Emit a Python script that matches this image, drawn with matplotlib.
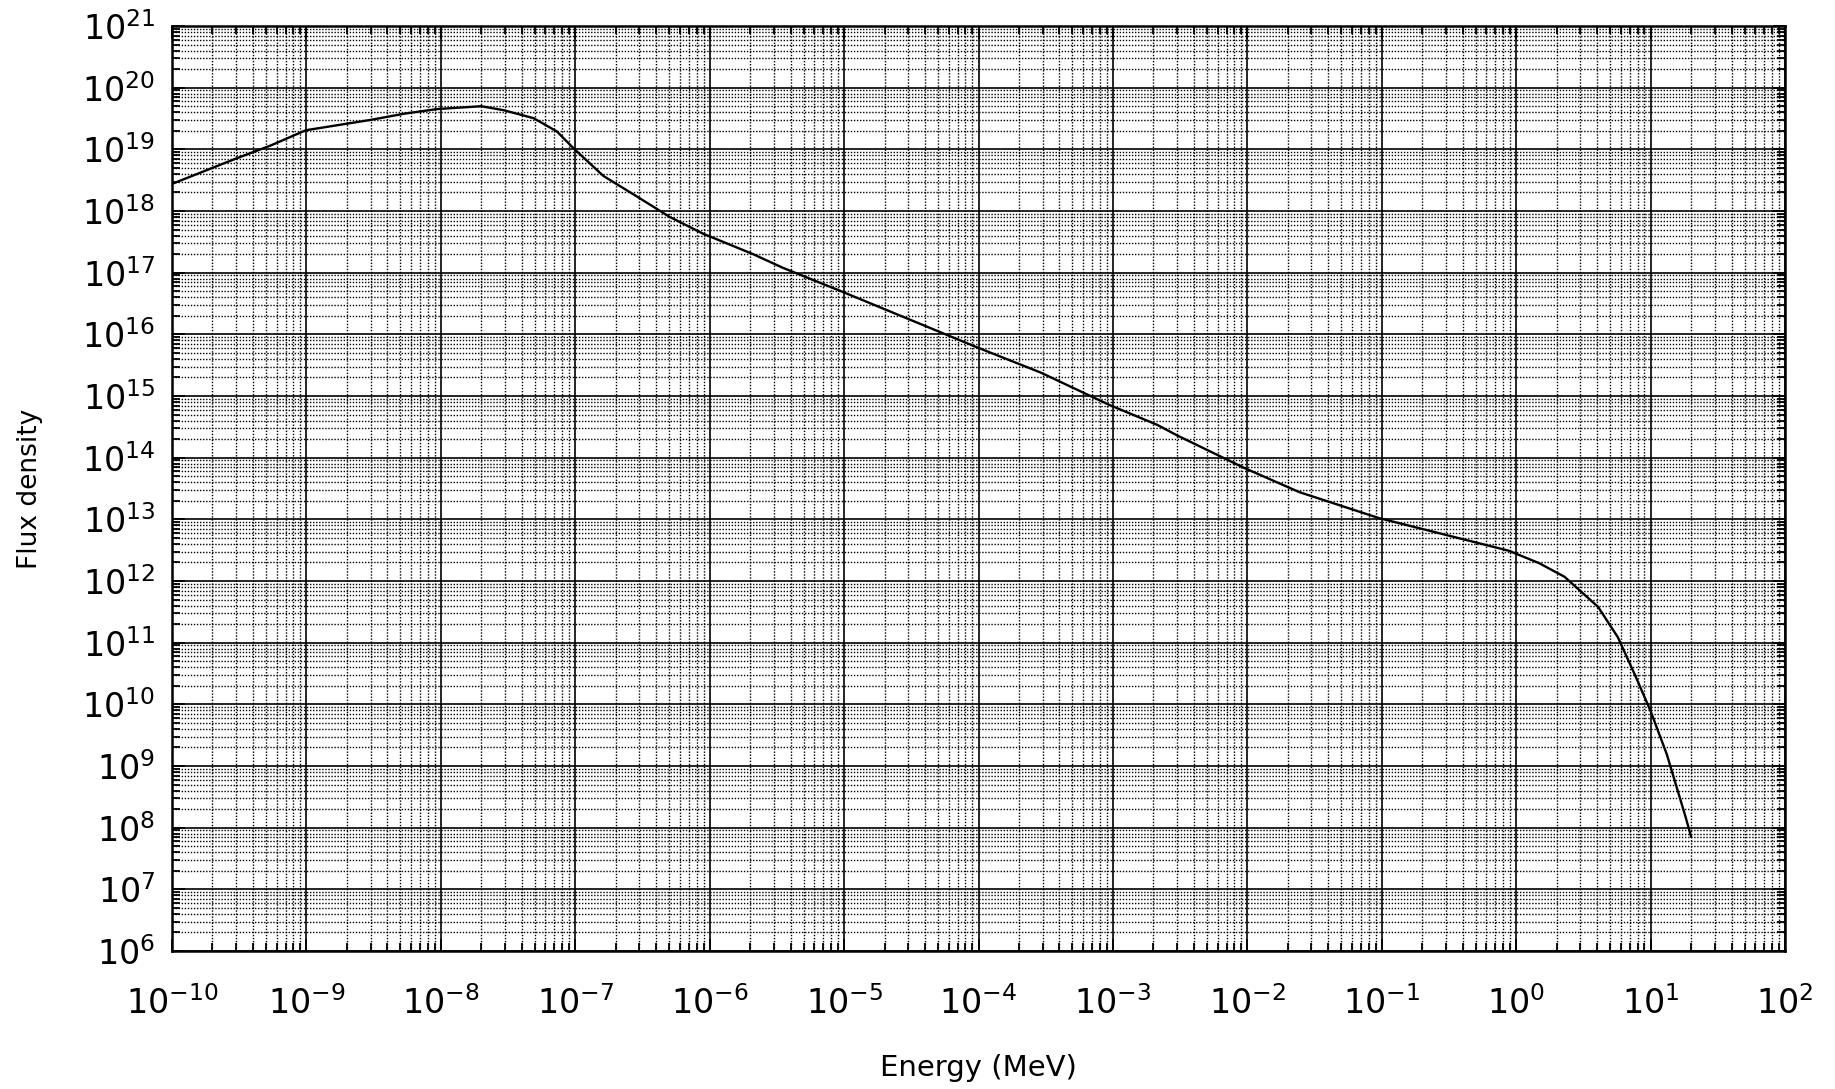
import numpy as np
import matplotlib
matplotlib.use('Agg')
import matplotlib.pyplot as plt
from matplotlib import ticker

# energy (MeV) and flux density
energy = [1.0e-10, 3.0e-10, 5.4e-10, 9.9e-10, 3.0e-9, 5.4e-9, 9.4e-9, 2.0e-8,
          2.95e-8, 4.9e-8, 7.3e-8, 9.8e-8, 1.62e-7, 2.85e-7, 5.0e-7, 8.9e-7,
          2.1e-6, 3.5e-6, 9.5e-6, 9.5e-5, 2.9e-4, 9.5e-4, 2.14e-3, 3.0e-3,
          9.5e-3, 2.45e-2, 9.5e-2, 0.88, 1.48, 2.29, 4.07, 5.7, 7.6, 10.0,
          13.2, 18.2, 20.0]
flux = [2.75e18, 7.1e18, 1.15e19, 2.04e19, 3.0e19, 3.8e19, 4.5e19, 5.0e19,
        4.3e19, 3.2e19, 1.95e19, 1.02e19, 3.7e18, 1.74e18, 8.1e17, 4.3e17,
        2.0e17, 1.2e17, 5.0e16, 6.3e15, 2.4e15, 7.1e14, 3.4e14, 2.3e14,
        6.8e13, 2.75e13, 1.05e13, 3.1e12, 1.95e12, 1.17e12, 3.8e11, 1.23e11,
        3.1e10, 7.8e9, 1.55e9, 1.5e8, 7.2e7]

x_decades = list(range(-10, 3))
y_decades = list(range(6, 22))

plt.rcParams['font.family'] = ['DejaVu Sans']
plt.rcParams['mathtext.fontset'] = 'dejavusans'

fig = plt.figure(figsize=(18.35, 10.89), dpi=100)
ax = fig.add_axes([172/1835, 1-951/1089, 1613/1835, 925/1089])

ax.plot(energy, flux, color='black', lw=1.7)

ax.set_xscale('log')
ax.set_yscale('log')
ax.set_xlim(10.0**x_decades[0], 10.0**x_decades[-1])
ax.set_ylim(10.0**y_decades[0], 10.0**y_decades[-1])

for axis, dec in ((ax.xaxis, x_decades), (ax.yaxis, y_decades)):
    axis.set_major_locator(ticker.FixedLocator([10.0**d for d in dec]))
    minors = [m * 10.0**d for d in dec[:-1] for m in range(2, 10)]
    axis.set_minor_locator(ticker.FixedLocator(minors))
    axis.set_minor_formatter(ticker.NullFormatter())
    axis.set_major_formatter(ticker.LogFormatterSciNotation())

ax.grid(which='major', color='black', lw=1.2, ls='-')
ax.grid(which='minor', color='black', lw=1.0, ls=(0, (1, 1.2)))

ax.tick_params(which='both', direction='in', top=True, right=True, labelsize=24)
ax.tick_params(which='major', length=9, width=1.3)
ax.tick_params(which='minor', length=6, width=1.3)
ax.tick_params(axis='x', pad=25)
ax.tick_params(axis='y', pad=12)

for s in ax.spines.values():
    s.set_linewidth(1.8)

ax.set_xlabel('Energy (MeV)', fontsize=21, labelpad=24)
ax.set_ylabel('Flux density', fontsize=19, labelpad=28)

fig.savefig('out.png', dpi=100, facecolor='white')
